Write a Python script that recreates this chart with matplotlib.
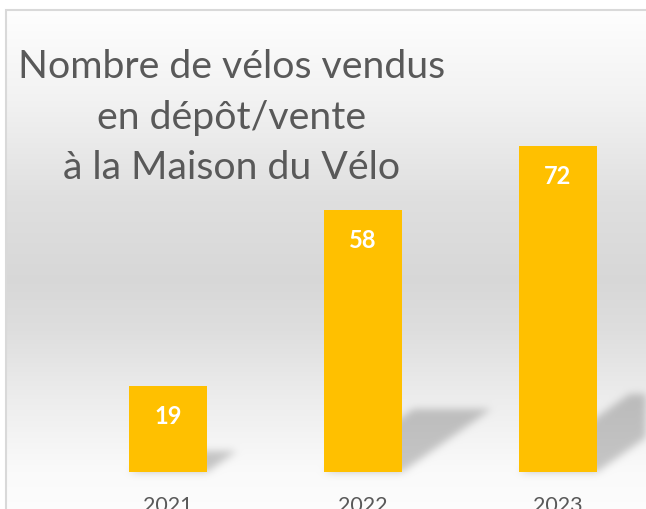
import numpy as np
import matplotlib.pyplot as plt
from matplotlib.path import Path
from matplotlib.patches import Rectangle

# --- Data ---
years = ["2021", "2022", "2023"]
sold = [19, 58, 72]
title_lines = ["Nombre de vélos vendus", "en dépôt/vente", "à la Maison du Vélo"]

W, H = 646, 509
plt.rcParams['font.family'] = ['Lato', 'DejaVu Sans']

fig = plt.figure(figsize=(W / 100, H / 100), dpi=100)
bg = fig.add_axes([0, 0, 1, 1], zorder=0)
ax = fig.add_axes([70.5 / W, 37 / H, 575.5 / W, 362 / H], zorder=1)
ax.patch.set_alpha(0)

x = np.arange(len(years))
bar_w = 0.4
bars = ax.bar(x, sold, width=bar_w, color='#FFC000', zorder=3)
ax.set_xlim(-0.5, -0.5 + 575.5 / 195)
ax.set_ylim(0, 80)

# value labels inside the bars
for xi, v in zip(x, sold):
    ax.annotate(f'{v}', (xi, v), textcoords="offset points", xytext=(0, -22),
                ha='center', va='center', fontsize=17, fontweight='bold',
                color='white', zorder=4)

ax.set_xticks(x, years)
ax.tick_params(axis='x', length=0, pad=17, labelsize=15.5, labelcolor='#595959')
ax.set_yticks([])
for s in ax.spines.values():
    s.set_visible(False)

# --- Background gradient + soft perspective shadows (pixel space) ---
yy = H - (np.arange(H) + 0.5)  # y from top for each bottom-origin row
stops_y = [0, 10, 100, 200, 280, 330, 400, 470, 509]
stops_g = [1.0, 0.995, 0.95, 0.875, 0.845, 0.87, 0.93, 0.98, 0.99]
col = np.interp(yy, stops_y, stops_g)
img = np.repeat(col[:, None], W, axis=1)

px, py = np.meshgrid(np.arange(W) + 0.5, np.arange(H) + 0.5)
pts = np.column_stack([px.ravel(), py.ravel()])
shadow = np.zeros((H, W))
for xi, v in zip(x, sold):
    x0, y0 = ax.transData.transform((xi - bar_w / 2, 0))
    x1, _ = ax.transData.transform((xi + bar_w / 2, 0))
    hp = ax.transData.transform((xi, v))[1] - y0
    dx, dy = 0.34 * hp, 0.24 * hp
    poly = Path([(x0, y0), (x1, y0), (x1 + dx, y0 + dy), (x0 + dx, y0 + dy), (x0, y0)])
    shadow = np.maximum(shadow, poly.contains_points(pts).reshape(H, W).astype(float))

sig = 4.0
k = np.arange(-12, 13)
kern = np.exp(-k ** 2 / (2 * sig ** 2))
kern /= kern.sum()
shadow = np.apply_along_axis(lambda r: np.convolve(r, kern, mode='same'), 1, shadow)
shadow = np.apply_along_axis(lambda c: np.convolve(c, kern, mode='same'), 0, shadow)
img = img * (1 - 0.21 * shadow)

# white outside the chart frame
fx, fy = 6, H - 10
img[:, :fx] = 1.0
img[fy:, :] = 1.0

rgb = np.dstack([img, img, img])
bg.imshow(rgb, origin='lower', extent=[0, W, 0, H], aspect='auto', interpolation='nearest')
bg.add_patch(Rectangle((fx, -5), W + 10, fy + 5, fill=False, edgecolor='#D9D9D9', linewidth=1.5))
bg.set_xlim(0, W)
bg.set_ylim(0, H)
bg.axis('off')

# title, one baseline per line
for line, base in zip(title_lines, [78, 129, 179]):
    fig.text(232 / W, 1 - base / H, line, ha='center', va='baseline',
             fontsize=28.3, color='#595959')

fig.savefig('out.png', dpi=100)
